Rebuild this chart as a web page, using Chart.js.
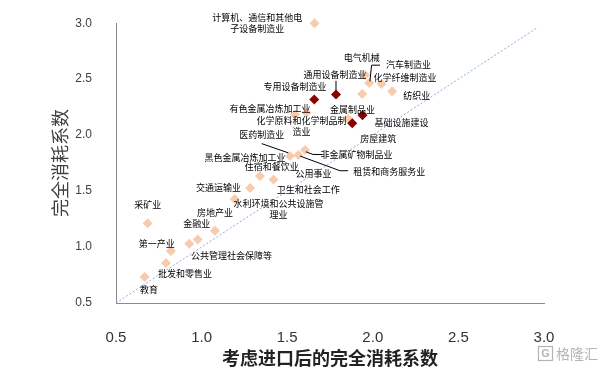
<!DOCTYPE html>
<html>
<head>
    <meta charset="UTF-8">
    <title>完全消耗系数对比</title>
    <style>
        body { margin: 0; padding: 0; background: #fff; }
        #chart-container { width: 609px; height: 371px; position: relative; }
    </style>
</head>
<body>
    <div id="chart-container">
        <canvas id="scatterChart"></canvas>
    </div>

    <script src="https://cdn.jsdelivr.net/npm/chart.js"></script>
    <script>
        // light points (x = after import adjustment, y = total consumption coefficient)
        const lightX = [1.66, 1.955, 1.979, 2.051, 2.113, 1.938, 1.545, 1.613, 1.857, 1.516, 1.565, 1.604,
                        1.341, 1.42, 1.283, 1.193, 0.685, 1.078, 0.977, 0.928, 0.821, 0.792, 0.667];
        const lightY = [3.0, 2.538, 2.465, 2.456, 2.392, 2.368, 2.184, 2.199, 2.143, 1.813, 1.822, 1.866,
                        1.635, 1.603, 1.528, 1.43, 1.213, 1.146, 1.067, 1.029, 0.965, 0.858, 0.733];

        // dark highlighted points
        const darkX = [1.658, 1.785, 1.94, 1.88];
        const darkY = [2.318, 2.362, 2.178, 2.105];

        // 45 degree reference line
        const refLine = [0.5, 2.96];

        const xTicks = [0.5, 1.0, 1.5, 2.0, 2.5, 3.0];
        const yTicks = [0.5, 1.0, 1.5, 2.0, 2.5, 3.0];

        // point labels, centre of text block in data units
        const labelText = [
            ['计算机、通信和其他电', '子设备制造业'], ['电气机械'], ['汽车制造业'], ['化学纤维制造业'],
            ['通用设备制造业'], ['纺织业'], ['专用设备制造业'], ['有色金属冶炼加工业'], ['金属制品业'],
            ['化学原料和化学制品制', '造业'], ['基础设施建设'], ['房屋建筑'], ['医药制造业'],
            ['非金属矿物制品业'], ['黑色金属冶炼加工业'], ['租赁和商务服务业'], ['住宿和餐饮业'],
            ['公用事业'], ['交通运输业'], ['卫生和社会工作'], ['水利环境和公共设施管', '理业'],
            ['采矿业'], ['房地产业'], ['金融业'], ['第一产业'], ['公共管理社会保障等'],
            ['批发和零售业'], ['教育']
        ];
        const labelX = [1.325, 1.935, 2.208, 2.188, 1.779, 2.256, 1.545, 1.40, 1.882, 1.583, 2.168, 2.032,
                        1.351, 1.905, 1.253, 2.096, 1.41, 1.653, 1.098, 1.623, 1.449, 0.685, 1.078,
                        0.971, 0.738, 1.175, 0.903, 0.693];
        const labelY = [3.0, 2.69, 2.63, 2.515, 2.544, 2.354, 2.433, 2.237, 2.23, 2.083, 2.114, 1.968,
                        2.003, 1.827, 1.798, 1.675, 1.719, 1.658, 1.535, 1.512, 1.338, 1.375, 1.307,
                        1.213, 1.029, 0.921, 0.766, 0.623];

        // leader lines (polylines in data units)
        const leaders = [
            [[2.042, 2.625], [1.993, 2.625], [1.983, 2.48]],
            [[1.785, 2.485], [1.785, 2.40]],
            [[1.351, 1.924], [1.506, 1.842]],
            [[1.61, 1.851], [1.651, 1.827], [1.703, 1.827]],
            [[1.575, 1.813], [1.808, 1.682], [1.856, 1.682]]
        ];

        const labelPlugin = {
            id: 'pointLabels',
            afterDatasetsDraw(chart) {
                const ctx = chart.ctx;
                const xs = chart.scales.x, ys = chart.scales.y;
                ctx.save();
                ctx.strokeStyle = '#000';
                ctx.lineWidth = 1;
                leaders.forEach(pts => {
                    ctx.beginPath();
                    pts.forEach((p, i) => {
                        const px = xs.getPixelForValue(p[0]), py = ys.getPixelForValue(p[1]);
                        if (i === 0) ctx.moveTo(px, py); else ctx.lineTo(px, py);
                    });
                    ctx.stroke();
                });
                ctx.font = '9px "Noto Sans CJK SC"';
                ctx.fillStyle = '#000';
                ctx.textAlign = 'center';
                ctx.textBaseline = 'middle';
                labelText.forEach((lines, i) => {
                    const cx = xs.getPixelForValue(labelX[i]);
                    const cy = ys.getPixelForValue(labelY[i]);
                    const lh = 11;
                    const top = cy - (lines.length - 1) * lh / 2;
                    lines.forEach((t, j) => ctx.fillText(t, cx, top + j * lh));
                });
                // watermark
                ctx.fillStyle = '#b4b4b4';
                ctx.strokeStyle = '#b4b4b4';
                ctx.lineWidth = 1.2;
                ctx.strokeRect(538.5, 346.5, 14, 14);
                ctx.font = 'bold 11px "Liberation Sans"';
                ctx.fillText('G', 545.5, 354);
                ctx.font = '14px "Noto Sans CJK SC"';
                ctx.textAlign = 'left';
                ctx.fillText('格隆汇', 556, 354);
                ctx.restore();
            }
        };

        window.onload = function () {
            const ctx = document.getElementById('scatterChart').getContext('2d');
            new Chart(ctx, {
                type: 'scatter',
                data: {
                    datasets: [
                        {
                            label: '参考线',
                            type: 'line',
                            data: refLine.map(v => ({ x: v, y: v })),
                            borderColor: '#8faadc',
                            borderWidth: 1,
                            borderDash: [2, 2],
                            pointRadius: 0,
                            fill: false,
                            order: 3
                        },
                        {
                            label: '行业',
                            data: lightX.map((x, i) => ({ x: x, y: lightY[i] })),
                            pointStyle: 'rectRot',
                            pointRadius: 5,
                            backgroundColor: '#f8cbad',
                            borderColor: '#f8cbad',
                            borderWidth: 0,
                            clip: false,
                            order: 2
                        },
                        {
                            label: '重点行业',
                            data: darkX.map((x, i) => ({ x: x, y: darkY[i] })),
                            pointStyle: 'rectRot',
                            pointRadius: 5,
                            backgroundColor: '#8b0000',
                            borderColor: '#8b0000',
                            borderWidth: 0,
                            clip: false,
                            order: 1
                        }
                    ]
                },
                options: {
                    responsive: true,
                    maintainAspectRatio: false,
                    animation: false,
                    layout: { padding: { top: 18, right: 65, left: 0, bottom: 0 } },
                    plugins: {
                        legend: { display: false },
                        tooltip: { enabled: false }
                    },
                    scales: {
                        x: {
                            type: 'linear',
                            min: 0.5,
                            max: 3.0,
                            afterBuildTicks: s => { s.ticks = xTicks.map(v => ({ value: v })); },
                            afterFit: s => { s.height = 68; },
                            grid: { display: false },
                            border: { display: true, color: '#8c8c8c', width: 1 },
                            ticks: {
                                padding: 18,
                                color: '#333',
                                font: { family: 'Liberation Sans', size: 15 },
                                callback: v => Number(v).toFixed(1)
                            },
                            title: {
                                display: true,
                                text: '考虑进口后的完全消耗系数',
                                color: '#222',
                                font: { family: '"Noto Sans CJK SC"', size: 18, weight: 'bold' },
                                padding: { top: 0, bottom: 2 }
                            }
                        },
                        y: {
                            type: 'linear',
                            min: 0.5,
                            max: 3.0,
                            afterBuildTicks: s => { s.ticks = yTicks.map(v => ({ value: v })); },
                            afterFit: s => { s.width = 116; },
                            grid: { display: false },
                            border: { display: true, color: '#8c8c8c', width: 1 },
                            ticks: {
                                padding: 16,
                                color: '#404040',
                                font: { family: 'Liberation Sans', size: 12 },
                                callback: v => Number(v).toFixed(1)
                            },
                            title: {
                                display: true,
                                text: '完全消耗系数',
                                color: '#404040',
                                font: { family: '"Noto Sans CJK SC"', size: 18 },
                                padding: { top: 49, bottom: 0 }
                            }
                        }
                    }
                },
                plugins: [labelPlugin]
            });
        };
    </script>
</body>
</html>
